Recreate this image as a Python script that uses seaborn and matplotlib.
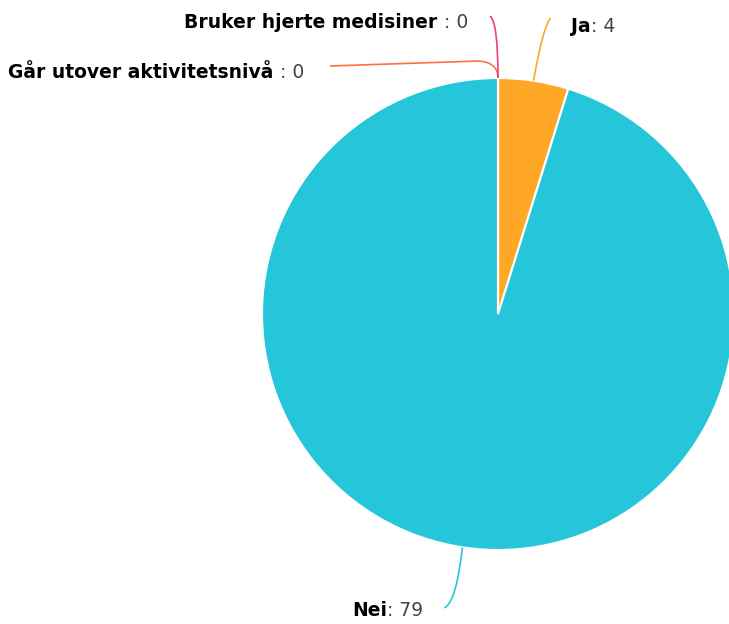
import numpy as np
import matplotlib
matplotlib.use("Agg")
import matplotlib.pyplot as plt
from matplotlib.path import Path
from matplotlib.patches import PathPatch
import seaborn as sns

# --- data ---
labels = ["Ja", "Nei", "Går utover aktivitetsnivå", "Bruker hjerte medisiner"]
values = [4, 79, 0, 0]
colors = ["#FFA726", "#26C6DA", "#FF7043", "#EC407A"]

W, H = 729, 624
CX, CY, R = 498, 314, 236  # pie centre / radius in pixels (y from top)
FS = 13.5

sns.set_theme(style="white")
plt.rcParams["font.family"] = ["DejaVu Sans"]

fig = plt.figure(figsize=(W / 100, H / 100), dpi=100)
ax = fig.add_axes([0, 0, 1, 1])

ax.pie(values, colors=colors, startangle=90, counterclock=False,
       center=(CX, H - CY), radius=R,
       wedgeprops=dict(edgecolor="white", linewidth=1.5))
ax.set_xlim(0, W)
ax.set_ylim(0, H)
ax.set_aspect("equal")
ax.axis("off")


def edge_point(i):
    total = sum(values)
    start = sum(values[:i]) / total * 360
    mid = start + values[i] / total * 360 / 2
    a = np.radians(mid)
    return CX + R * np.sin(a), CY - R * np.cos(a)


def leader(points, codes, color):
    verts = [(x, H - y) for x, y in points]
    ax.add_patch(PathPatch(Path(verts, codes), fill=False, edgecolor=color, lw=1.2))


def label(x, y, name, val, align, sep=""):
    # bold name, grey value; sep goes between name and colon
    if align == "left":
        t = ax.text(x, H - y, name + sep, fontsize=FS, fontweight="semibold",
                    color="black", ha="left", va="center")
        ax.annotate(": " + str(val), xy=(1, 0.5), xycoords=t, fontsize=FS,
                    color="#444444", ha="left", va="center")
    else:
        t = ax.text(x, H - y, sep + ": " + str(val), fontsize=FS, color="#444444",
                    ha="right", va="center")
        ax.annotate(name, xy=(0, 0.5), xycoords=t, fontsize=FS,
                    fontweight="semibold", color="black", ha="right", va="center")


C3 = [Path.MOVETO, Path.CURVE3, Path.CURVE3]

# Ja
x0, y0 = edge_point(0)
leader([(x0, y0), (x0 + 9, 28), (x0 + 17, 18)], C3, colors[0])
label(571, 26, labels[0], values[0], "left")

# Nei
x0, y0 = edge_point(1)
leader([(x0, y0), (x0 - 6, 602), (x0 - 18, 608)], C3, colors[1])
label(423, 610, labels[1], values[1], "right")

# Går utover aktivitetsnivå
x0, y0 = edge_point(2)
leader([(x0, y0), (x0, 62), (x0 - 20, 61)], C3, colors[2])
leader([(x0 - 20, 61), (330, 66)], [Path.MOVETO, Path.LINETO], colors[2])
label(304, 72, labels[2], values[2], "right", sep=" ")

# Bruker hjerte medisiner
x0, y0 = edge_point(3)
leader([(x0, y0), (x0, 22), (x0 - 8, 16)], C3, colors[3])
label(468, 22, labels[3], values[3], "right", sep=" ")

fig.savefig("out.png", dpi=100)
